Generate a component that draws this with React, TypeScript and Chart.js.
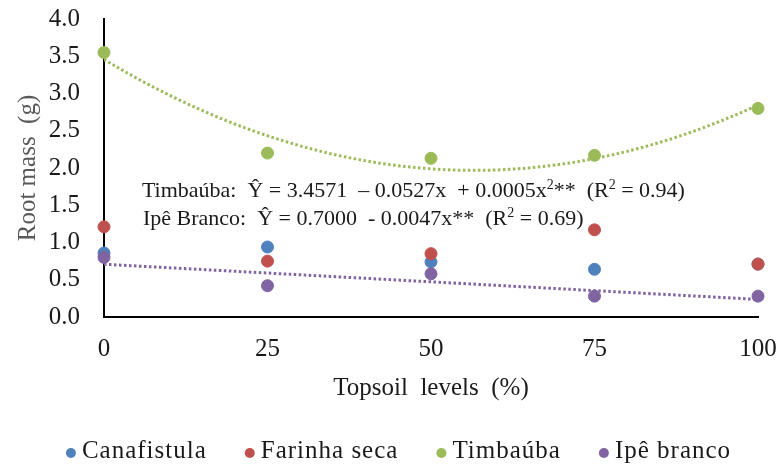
import React, { useEffect, useRef } from "react";
import { Chart, registerables } from "chart.js";

Chart.register(...registerables);

// Topsoil levels (%) on the x axis
const topsoilLevels = [0, 25, 50, 75, 100];

// Root mass (g) per species
const canafistula = [0.86, 0.94, 0.74, 0.64, 0.71];
const farinhaSeca = [1.21, 0.75, 0.85, 1.17, 0.71];
const timbauba = [3.55, 2.2, 2.13, 2.17, 2.8];
const ipeBranco = [0.8, 0.42, 0.58, 0.28, 0.28];

const seriesNames = ["Canafistula", "Farinha seca", "Timbaúba", "Ipê branco"];
const seriesColors = ["#4F81BD", "#C0504D", "#9BBB59", "#8064A2"];

const yTicks = [0, 0.5, 1, 1.5, 2, 2.5, 3, 3.5, 4];

const FONT = "'Liberation Serif', 'Times New Roman', serif";
const TEXT_DARK = "#1a1a1a";

// Least-squares polynomial fit (degree 1 or 2) used for the trend lines
function polyFit(xs: number[], ys: number[], degree: number): number[] {
  const n = degree + 1;
  const A: number[][] = [];
  for (let r = 0; r < n; r++) {
    const row: number[] = [];
    for (let c = 0; c < n; c++) {
      row.push(xs.reduce((s, x) => s + Math.pow(x, r + c), 0));
    }
    row.push(xs.reduce((s, x, i) => s + Math.pow(x, r) * ys[i], 0));
    A.push(row);
  }
  for (let i = 0; i < n; i++) {
    let p = i;
    for (let k = i + 1; k < n; k++) if (Math.abs(A[k][i]) > Math.abs(A[p][i])) p = k;
    [A[i], A[p]] = [A[p], A[i]];
    for (let k = i + 1; k < n; k++) {
      const f = A[k][i] / A[i][i];
      for (let j = i; j <= n; j++) A[k][j] -= f * A[i][j];
    }
  }
  const coef = new Array(n).fill(0);
  for (let i = n - 1; i >= 0; i--) {
    let s = A[i][n];
    for (let j = i + 1; j < n; j++) s -= A[i][j] * coef[j];
    coef[i] = s / A[i][i];
  }
  return coef;
}

function trendPoints(coef: number[]) {
  const pts: { x: number; y: number }[] = [];
  for (let x = 0; x <= 100; x += 1) {
    pts.push({ x, y: coef.reduce((s, c, i) => s + c * Math.pow(x, i), 0) });
  }
  return pts;
}

// Regression equations written inside the plot: [text, isSuperscript][]
const equationLines: { x: number; y: number; parts: [string, boolean][] }[] = [
  {
    x: 5.8,
    y: 1.61,
    parts: [
      ["Timbaúba:  Ŷ = 3.4571  – 0.0527x  + 0.0005x", false],
      ["2", true],
      ["**  (R", false],
      ["2", true],
      [" = 0.94)", false],
    ],
  },
  {
    x: 5.95,
    y: 1.235,
    parts: [
      ["Ipê Branco:  Ŷ = 0.7000  - 0.0047x**  (R", false],
      ["2", true],
      [" = 0.69)", false],
    ],
  },
];

const equationPlugin = {
  id: "equations",
  afterDatasetsDraw(chart: any) {
    const { ctx, scales } = chart;
    ctx.save();
    ctx.fillStyle = TEXT_DARK;
    ctx.textBaseline = "alphabetic";
    ctx.textAlign = "left";
    for (const line of equationLines) {
      let px = scales.x.getPixelForValue(line.x);
      const py = scales.y.getPixelForValue(line.y);
      for (const [txt, sup] of line.parts) {
        ctx.font = sup ? `14px ${FONT}` : `22px ${FONT}`;
        ctx.fillText(txt, px, sup ? py - 8 : py);
        px += ctx.measureText(txt).width;
      }
    }
    ctx.restore();
  },
};

// Legend row beneath the axis title: coloured dot followed by the species name
const legendPlugin = {
  id: "speciesLegend",
  afterDraw(chart: any) {
    const { ctx } = chart;
    const dotR = 5;
    const dotGap = 11;
    const itemGap = 38;
    const y = chart.height - 17;
    ctx.save();
    ctx.font = `25px ${FONT}`;
    (ctx as any).letterSpacing = "1px";
    const widths = seriesNames.map((n) => ctx.measureText(n).width);
    const total =
      widths.reduce((s, w) => s + w + dotR + dotGap, 0) + itemGap * (seriesNames.length - 1);
    let x = chart.width / 2 + 10 - total / 2;
    ctx.textBaseline = "middle";
    ctx.textAlign = "left";
    seriesNames.forEach((name, i) => {
      ctx.fillStyle = seriesColors[i];
      ctx.beginPath();
      ctx.arc(x + dotR, y + 2, dotR, 0, Math.PI * 2);
      ctx.fill();
      ctx.fillStyle = TEXT_DARK;
      ctx.fillText(name, x + dotR + dotGap, y);
      x += dotR + dotGap + widths[i] + itemGap;
    });
    ctx.restore();
  },
};

export default function App() {
  const canvasRef = useRef<HTMLCanvasElement | null>(null);

  useEffect(() => {
    document.body.style.margin = "0";
    const canvas = canvasRef.current;
    if (!canvas) return;

    const species = [canafistula, farinhaSeca, timbauba, ipeBranco];
    // Later species are painted over earlier ones (lower order draws on top)
    const pointSets = species.map((vals, i) => ({
      label: seriesNames[i],
      data: topsoilLevels.map((x, j) => ({ x, y: vals[j] })),
      backgroundColor: seriesColors[i],
      borderColor: seriesColors[i],
      pointRadius: 6,
      pointHoverRadius: 6,
      showLine: false,
      clip: false,
      order: species.length - i,
    }));

    const timbaubaFit = polyFit(topsoilLevels, timbauba, 2);
    const ipeFit = polyFit(topsoilLevels, ipeBranco, 1);

    const trendSets = [
      { label: "trend-timbauba", coef: timbaubaFit, color: seriesColors[2] },
      { label: "trend-ipe", coef: ipeFit, color: seriesColors[3] },
    ].map((t) => ({
      label: t.label,
      data: trendPoints(t.coef),
      borderColor: t.color,
      backgroundColor: t.color,
      borderWidth: 3,
      borderDash: [2.5, 2.5],
      pointRadius: 0,
      showLine: true,
      fill: false,
      order: 10,
    }));

    const chart = new Chart(canvas, {
      type: "scatter",
      data: { datasets: [...pointSets, ...trendSets] as any },
      options: {
        responsive: false,
        animation: false,
        layout: { padding: { top: 19, right: 19, left: 0, bottom: 65 } },
        plugins: {
          tooltip: { enabled: false },
          legend: { display: false },
        },
        scales: {
          x: {
            type: "linear",
            min: 0,
            max: 100,
            afterBuildTicks: (scale: any) => {
              scale.ticks = topsoilLevels.map((v) => ({ value: v }));
            },
            afterFit: (scale: any) => {
              scale.height = 86;
              scale.paddingLeft = 0;
              scale.paddingRight = 0;
            },
            grid: { display: false, drawTicks: false },
            border: { display: true, color: "#000", width: 2 },
            ticks: {
              padding: 17,
              color: TEXT_DARK,
              font: { family: FONT, size: 25 },
              maxRotation: 0,
            },
            title: {
              display: true,
              text: "Topsoil  levels  (%)",
              color: TEXT_DARK,
              font: { family: FONT, size: 25 },
              padding: { top: 0, bottom: 0 },
            },
          },
          y: {
            type: "linear",
            min: 0,
            max: 4,
            afterBuildTicks: (scale: any) => {
              scale.ticks = yTicks.map((v) => ({ value: v }));
            },
            afterFit: (scale: any) => {
              scale.width = 104;
              scale.paddingTop = 0;
              scale.paddingBottom = 0;
            },
            grid: { display: false, drawTicks: false },
            border: { display: true, color: "#000", width: 2 },
            ticks: {
              padding: 24,
              color: TEXT_DARK,
              font: { family: FONT, size: 25 },
              callback: (v: any) => Number(v).toFixed(1),
            },
            title: {
              display: true,
              text: "Root mass  (g)",
              color: "#595959",
              font: { family: FONT, size: 25 },
              padding: { top: 13, bottom: 0 },
            },
          },
        },
      },
      plugins: [equationPlugin, legendPlugin],
    });

    return () => chart.destroy();
  }, []);

  return <canvas ref={canvasRef} width={777} height={468} style={{ display: "block" }} />;
}
